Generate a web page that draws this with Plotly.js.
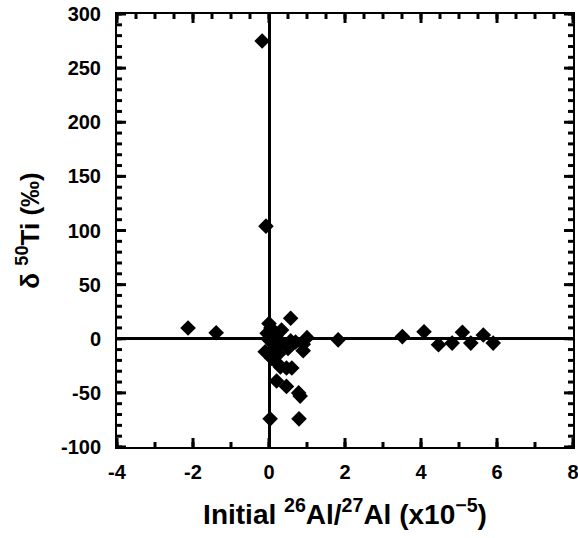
<!DOCTYPE html>
<html><head><meta charset="utf-8">
<script src="https://cdn.plot.ly/plotly-3.0.1.min.js"></script>
<style>html,body{margin:0;padding:0;background:#fff;}#chart{width:578px;height:538px;}</style>
</head><body><div id="chart"></div>
<script>
const alRatio = [-0.18,-0.08,-2.13,-1.39,
  0.57,0.0,0.05,0.33,-0.05,0.1,0.2,0.0,0.15,0.3,0.57,0.7,1.0,0.9,0.9,0.5,-0.1,0.1,0.25,0.07,0.2,0.3,0.46,0.6,0.2,0.46,0.78,0.82,0.03,0.79,
  1.82,3.51,4.08,4.46,4.82,5.09,5.31,5.64,5.9];
const deltaTi = [275,104,10,5.5,
  19,14,10,8,5,3,1,-1,-3,-5,-2,-3,1,-5,-11,-9,-12,-10,-14,-18,-22,-26,-27,-27,-39,-44,-50,-53,-74,-74,
  -1,2,6.5,-5.5,-4,6,-4,3.5,-4];
const xTicks = [-4,-2,0,2,4,6,8];
const yTicks = [-100,-50,0,50,100,150,200,250,300];

const fam = '"Liberation Sans", Arial, sans-serif';
const W = 578, H = 538, M = {l:117, r:5, t:14, b:91};
const xr = [xTicks[0], xTicks[xTicks.length-1]], yr = [yTicks[0], yTicks[yTicks.length-1]];
// data units per pixel, so tick lengths can be given in pixels
const ux = (xr[1]-xr[0]) / (W - M.l - M.r);
const uy = (yr[1]-yr[0]) / (H - M.t - M.b);

function steps(a, b, d){ const out=[]; const n=Math.round((b-a)/d); for(let i=0;i<=n;i++) out.push(a+i*d); return out; }
const tx = [], ty = [];
function xTick(v, top, len){ const y0 = top ? yr[1] : yr[0]; const y1 = top ? y0 - len*uy : y0 + len*uy;
  tx.push(v, v, null); ty.push(y0, y1, null); }
function yTick(v, right, len){ const x0 = right ? xr[1] : xr[0]; const x1 = right ? x0 - len*ux : x0 + len*ux;
  tx.push(x0, x1, null); ty.push(v, v, null); }
xTicks.forEach(v => { xTick(v,false,9); xTick(v,true,9); });
steps(xr[0], xr[1], 1).forEach(v => xTick(v,false,5));
steps(xr[0], xr[1], 0.5).forEach(v => xTick(v,true,5));
yTicks.forEach(v => { yTick(v,false,9); yTick(v,true,9); });
steps(yr[0], yr[1], 10).forEach(v => { yTick(v,false,5); yTick(v,true,5); });

const tickTrace = {x: tx, y: ty, type:'scatter', mode:'lines', line:{color:'#000', width:3},
  hoverinfo:'none', connectgaps:false};
const trace = {x: alRatio, y: deltaTi, type:'scatter', mode:'markers',
  marker:{symbol:'diamond', size:12, color:'#000'}, hoverinfo:'none'};

const axBase = {showline:true, linecolor:'#000', linewidth:2, mirror:true,
  ticks:'', showgrid:false,
  zeroline:true, zerolinecolor:'#000', zerolinewidth:3, ticklabeloverflow:'allow',
  tickfont:{family:fam, size:20, color:'#000'}};
const layout = {
  width:W, height:H, margin:M,
  paper_bgcolor:'#fff', plot_bgcolor:'#fff', showlegend:false,
  xaxis: Object.assign({}, axBase, {range:xr, tickmode:'array', tickvals:xTicks,
    ticktext:xTicks.map(v => '<b>' + v + '</b>'), ticklabelstandoff:6,
    title:{text:'<b>Initial <sup>26</sup>Al/<sup>27</sup>Al (x10<sup>\u22125</sup>)</b>', standoff:22,
      font:{family:fam, size:28, color:'#000'}}}),
  yaxis: Object.assign({}, axBase, {range:yr, tickmode:'array', tickvals:yTicks,
    ticktext:yTicks.map(v => '<b>' + v + '</b>'), ticklabelstandoff:10,
    title:{text:'<b>\u03b4 <sup>50</sup>Ti (\u2030)</b>', standoff:14,
      font:{family:fam, size:26, color:'#000'}}})
};
Plotly.newPlot('chart',[tickTrace, trace],layout,{staticPlot:true});
</script></body></html>
